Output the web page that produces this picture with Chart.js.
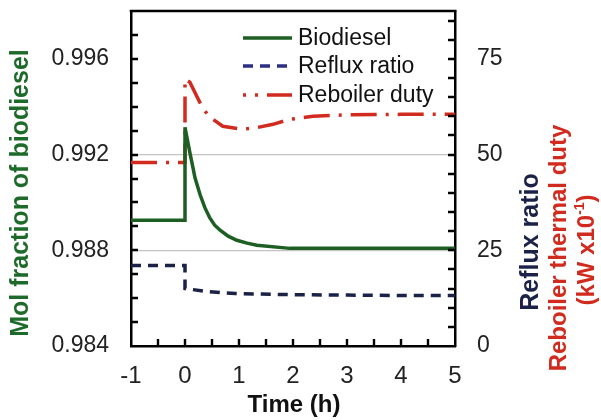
<!DOCTYPE html>
<html>
<head>
<meta charset="utf-8">
<script src="https://cdn.jsdelivr.net/npm/chart.js@4.4.1/dist/chart.umd.min.js"></script>
<style>
  html, body { margin: 0; padding: 0; background: #fff; }
  #wrap { width: 601px; height: 420px; position: relative; }
</style>
</head>
<body>
<div id="wrap"><canvas id="c" width="601" height="420"></canvas></div>
<script>
// Time axis (h) and tick labels
const xTicks = [-1, 0, 1, 2, 3, 4, 5];
const yLeftTicks = [0.984, 0.988, 0.992, 0.996];
const yRightTicks = [0, 25, 50, 75];

// Biodiesel mole fraction (left axis)
const bioTime = [-1, 0, 0, 0.09, 0.14, 0.185, 0.28, 0.37, 0.46, 0.55, 0.65, 0.8, 0.96, 1.15, 1.33, 1.94, 3, 4, 5];
const bioValue = [0.98926, 0.98926, 0.99314, 0.99208, 0.99154, 0.99103, 0.99032, 0.98977, 0.98935, 0.98905, 0.98884, 0.98859, 0.98842, 0.98830, 0.98821, 0.98808, 0.98808, 0.98808, 0.98808];

// Reflux ratio (right axis)
const refluxTime = [-1, 0, 0, 0.43, 0.93, 2, 3, 4, 5];
const refluxValue = [21.0, 21.0, 15.0, 14.2, 13.7, 13.4, 13.3, 13.2, 13.2];

// Reboiler duty, kW x10^-1 (right axis)
const dutyTime = [-1, 0, 0, 0.09, 0.31, 0.44, 0.70, 1.07, 1.35, 1.63, 1.94, 2.37, 3, 4, 5];
const dutyValue = [47.9, 47.9, 69.7, 68.9, 62.6, 60.0, 57.4, 56.6, 57.1, 57.9, 59.2, 60.0, 60.4, 60.5, 60.5];

// Minor tick positions along each axis
const xMinor = [-0.5, 0, 0.5, 1, 1.5, 2, 2.5, 3, 3.5, 4, 4.5];
const yLeftMinor = [0.985, 0.986, 0.987, 0.988, 0.989, 0.990, 0.991, 0.992, 0.993, 0.994, 0.995, 0.996, 0.997];
const yRightMinor = [5, 10, 15, 20, 25, 30, 35, 40, 45, 50, 55, 60, 65, 70, 75, 80, 85];

const FONT = '"Liberation Sans", Arial, sans-serif';
const GREEN = '#1d5e22';
const NAVY = '#1b2147';
const RED = '#d12a1e';

const pairs = (xs, ys) => xs.map((x, i) => ({ x: x, y: ys[i] }));

// keep the plot frame fixed: no extra room for half-height edge labels
const noPad = s => { s.paddingTop = 0; s.paddingBottom = 0; s.paddingLeft = 0; s.paddingRight = 0; };

// Inward tick marks, closed frame, axis titles and legend
const decorations = {
  id: 'decorations',
  afterDraw(chart) {
    const ctx = chart.ctx;
    const a = chart.chartArea;
    const sx = chart.scales.x, sy = chart.scales.y, sy2 = chart.scales.y2;
    ctx.save();
    ctx.setLineDash([]);
    ctx.strokeStyle = '#000000';
    ctx.lineWidth = 2.4;
    const len = 7;
    ctx.beginPath();
    xMinor.forEach(v => {
      const px = Math.round(sx.getPixelForValue(v));
      ctx.moveTo(px, a.bottom);
      ctx.lineTo(px, a.bottom - len);
    });
    yLeftMinor.forEach(v => {
      const py = Math.round(sy.getPixelForValue(v));
      ctx.moveTo(a.left, py);
      ctx.lineTo(a.left + len, py);
    });
    yRightMinor.forEach(v => {
      const py = Math.round(sy2.getPixelForValue(v));
      ctx.moveTo(a.right, py);
      ctx.lineTo(a.right - len, py);
    });
    // top edge of the frame
    ctx.moveTo(a.left - 1.25, a.top);
    ctx.lineTo(a.right + 1.25, a.top);
    ctx.stroke();

    // legend
    const rows = [38, 66, 95];
    chart.data.datasets.forEach((ds, i) => {
      ctx.save();
      ctx.strokeStyle = i === 1 ? '#2b2f86' : ds.borderColor;
      ctx.lineWidth = ds.borderWidth;
      ctx.setLineDash(i === 2 ? [3, 9, 3, 9, 24, 0] : (ds.borderDash || []));
      ctx.beginPath(); ctx.moveTo(243, rows[i]); ctx.lineTo(292, rows[i]); ctx.stroke();
      ctx.restore();
      ctx.fillStyle = '#111';
      ctx.font = '23px ' + FONT;
      ctx.textBaseline = 'middle';
      ctx.textAlign = 'left';
      ctx.fillText(ds.label, 298, rows[i] + 1);
    });

    // axis titles
    const vtext = (txt, x, y, color, size) => {
      ctx.save();
      ctx.translate(x, y);
      ctx.rotate(-Math.PI / 2);
      ctx.fillStyle = color;
      ctx.font = 'bold ' + size + 'px ' + FONT;
      ctx.textAlign = 'center';
      ctx.textBaseline = 'middle';
      ctx.fillText(txt, 0, 0);
      ctx.restore();
    };
    vtext('Mol fraction of biodiesel', 21, 193, '#1e6a2a', 25);
    vtext('Reflux ratio', 531, 242, NAVY, 25);
    vtext('Reboiler thermal duty', 559, 248, RED, 24);

    // "(kW x10^-1)" with raised exponent
    ctx.save();
    ctx.translate(587, 250);
    ctx.rotate(-Math.PI / 2);
    ctx.fillStyle = RED;
    ctx.textBaseline = 'middle';
    ctx.textAlign = 'left';
    const big = 'bold 24px ' + FONT, small = 'bold 14px ' + FONT;
    ctx.font = big; const w1 = ctx.measureText('(kW x10').width; const w3 = ctx.measureText(')').width;
    ctx.font = small; const w2 = ctx.measureText('-1').width;
    let x0 = -(w1 + w2 + w3) / 2;
    ctx.font = big; ctx.fillText('(kW x10', x0, 0);
    ctx.font = small; ctx.fillText('-1', x0 + w1, -7);
    ctx.font = big; ctx.fillText(')', x0 + w1 + w2, 0);
    ctx.restore();

    ctx.fillStyle = '#111';
    ctx.font = 'bold 24px ' + FONT;
    ctx.textAlign = 'center';
    ctx.textBaseline = 'middle';
    ctx.fillText('Time (h)', 294, 405);
    ctx.restore();
  }
};

new Chart(document.getElementById('c'), {
  type: 'line',
  data: {
    datasets: [
      { label: 'Biodiesel', data: pairs(bioTime, bioValue), yAxisID: 'y',
        borderColor: GREEN, borderWidth: 3.5, pointRadius: 0, tension: 0 },
      { label: 'Reflux ratio', data: pairs(refluxTime, refluxValue), yAxisID: 'y2',
        borderColor: NAVY, borderWidth: 3.5, borderDash: [10, 7], pointRadius: 0, tension: 0 },
      { label: 'Reboiler duty', data: pairs(dutyTime, dutyValue), yAxisID: 'y2',
        borderColor: RED, borderWidth: 3.5, borderDash: [26, 9, 3, 9], pointRadius: 0, tension: 0 }
    ]
  },
  options: {
    responsive: false,
    animation: false,
    layout: { padding: { top: 11, left: 0, right: 0, bottom: 0 } },
    plugins: { legend: { display: false }, tooltip: { enabled: false } },
    scales: {
      x: {
        type: 'linear', min: -1, max: 5,
        afterBuildTicks: s => { s.ticks = xTicks.map(v => ({ value: v })); },
        afterFit: s => { s.height = 74; noPad(s); },
        ticks: { font: { family: FONT, size: 24 }, color: '#222', padding: 16 },
        grid: { drawOnChartArea: false, drawTicks: false },
        border: { display: true, color: '#000', width: 2.5 }
      },
      y: {
        position: 'left', min: 0.984, max: 0.998,
        afterBuildTicks: s => { s.ticks = yLeftTicks.map(v => ({ value: v })); },
        afterFit: s => { s.width = 131; noPad(s); },
        ticks: { font: { family: FONT, size: 23 }, color: '#222', padding: 22,
                 callback: v => v.toFixed(3) },
        grid: { drawTicks: false, lineWidth: 1.3,
                color: c => (c.tick && (Math.abs(c.tick.value - 0.988) < 1e-6 || Math.abs(c.tick.value - 0.992) < 1e-6)) ? '#c4c4c4' : 'rgba(0,0,0,0)' },
        border: { display: true, color: '#000', width: 2.5 }
      },
      y2: {
        position: 'right', min: 0, max: 87.5,
        afterBuildTicks: s => { s.ticks = yRightTicks.map(v => ({ value: v })); },
        afterFit: s => { s.width = 146; noPad(s); },
        ticks: { font: { family: FONT, size: 23 }, color: '#222', padding: 22 },
        grid: { drawOnChartArea: false, drawTicks: false },
        border: { display: true, color: '#000', width: 2.5 }
      }
    }
  },
  plugins: [decorations]
});
</script>
</body>
</html>
